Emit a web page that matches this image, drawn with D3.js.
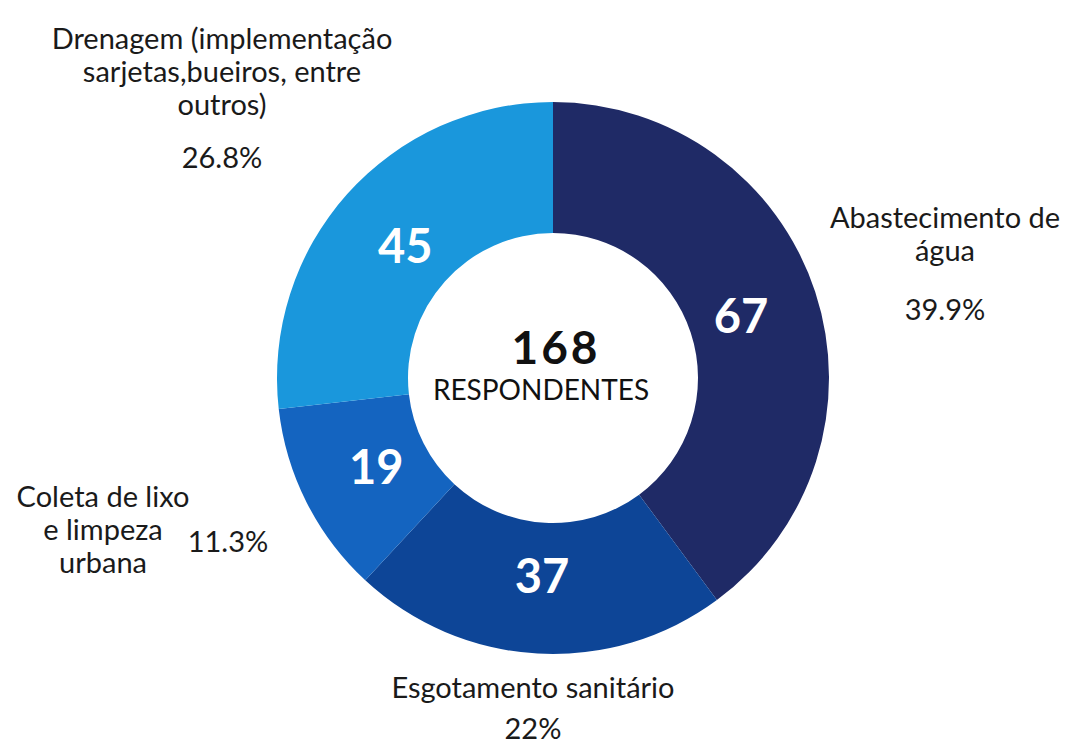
<!DOCTYPE html>
<html>
<head>
<meta charset="utf-8">
<script src="https://cdn.jsdelivr.net/npm/d3@7"></script>
<style>
  html, body { margin: 0; padding: 0; background: #fff; }
  svg { display: block; font-family: Lato, "Open Sans", sans-serif; }
</style>
</head>
<body>
<svg id="chart"></svg>
<script>
// Categories, counts and printed shares, in clockwise order starting at 12 o'clock
const categories = ['Abastecimento de água', 'Esgotamento sanitário', 'Coleta de lixo e limpeza urbana', 'Drenagem'];
const counts = [67, 37, 19, 45];
const shares = ['39.9%', '22%', '11.3%', '26.8%'];
const colors = ['#1f2a66', '#0d4597', '#1464c0', '#1a97dc'];
const total = 168;

// Outside label lines for each category (as printed)
const labelLines = [
  ['Abastecimento de', 'água'],
  ['Esgotamento sanitário'],
  ['Coleta de lixo', 'e limpeza', 'urbana'],
  ['Drenagem (implementação', 'sarjetas,bueiros, entre', 'outros)']
];
// label anchor spots (centre of text block) and where the % sits
const labelPos = [
  { x: 945, y: 234, px: 945, py: 320 },
  { x: 533, y: 688, px: 533, py: 739 },
  { x: 103, y: 530, px: 228, py: 552 },
  { x: 222, y: 72, px: 222, py: 168 }
];

const width = 1088, height = 748;
const cx = 553, cy = 378;
const outerR = 276, innerR = 145;

const svg = d3.select('#chart')
  .attr('width', width)
  .attr('height', height)
  .attr('viewBox', `0 0 ${width} ${height}`);

const pie = d3.pie().sort(null).value(d => d);
const arcs = pie(counts);

const arc = d3.arc().innerRadius(innerR).outerRadius(outerR);
const labelArc = d3.arc().innerRadius(198).outerRadius(198);

const g = svg.append('g').attr('transform', `translate(${cx}, ${cy})`);

g.selectAll('path.slice')
  .data(arcs)
  .join('path')
  .attr('class', 'slice')
  .attr('d', arc)
  .attr('fill', (d, i) => colors[i]);

// Slice counts
g.selectAll('text.count')
  .data(arcs)
  .join('text')
  .attr('class', 'count')
  .attr('transform', d => `translate(${labelArc.centroid(d)})`)
  .attr('text-anchor', 'middle')
  .attr('dy', '0.36em')
  .attr('font-size', '47px')
  .attr('font-weight', '700')
  .attr('fill', '#fff')
  .text(d => d.data);

// Centre
g.append('text')
  .attr('x', 3)
  .attr('y', -14)
  .attr('text-anchor', 'middle')
  .attr('font-size', '46px')
  .attr('font-weight', '700')
  .attr('letter-spacing', '3px')
  .attr('fill', '#111')
  .text(total);

g.append('text')
  .attr('x', -12)
  .attr('y', 22)
  .attr('text-anchor', 'middle')
  .attr('font-size', '28px')
  .attr('fill', '#111')
  .text('RESPONDENTES');

// Outside labels
categories.forEach((c, i) => {
  const p = labelPos[i];
  const lines = labelLines[i];
  const lh = 33;
  const t = svg.append('text')
    .attr('text-anchor', 'middle')
    .attr('font-size', '29px')
    .attr('fill', '#1a1a1a');
  lines.forEach((l, j) => {
    t.append('tspan')
      .attr('x', p.x)
      .attr('y', p.y + (j - (lines.length - 1) / 2) * lh + 10)
      .text(l);
  });

  svg.append('text')
    .attr('x', p.px)
    .attr('y', p.py)
    .attr('text-anchor', 'middle')
    .attr('font-size', '29px')
    .attr('fill', '#1a1a1a')
    .text(shares[i]);
});
</script>
</body>
</html>
